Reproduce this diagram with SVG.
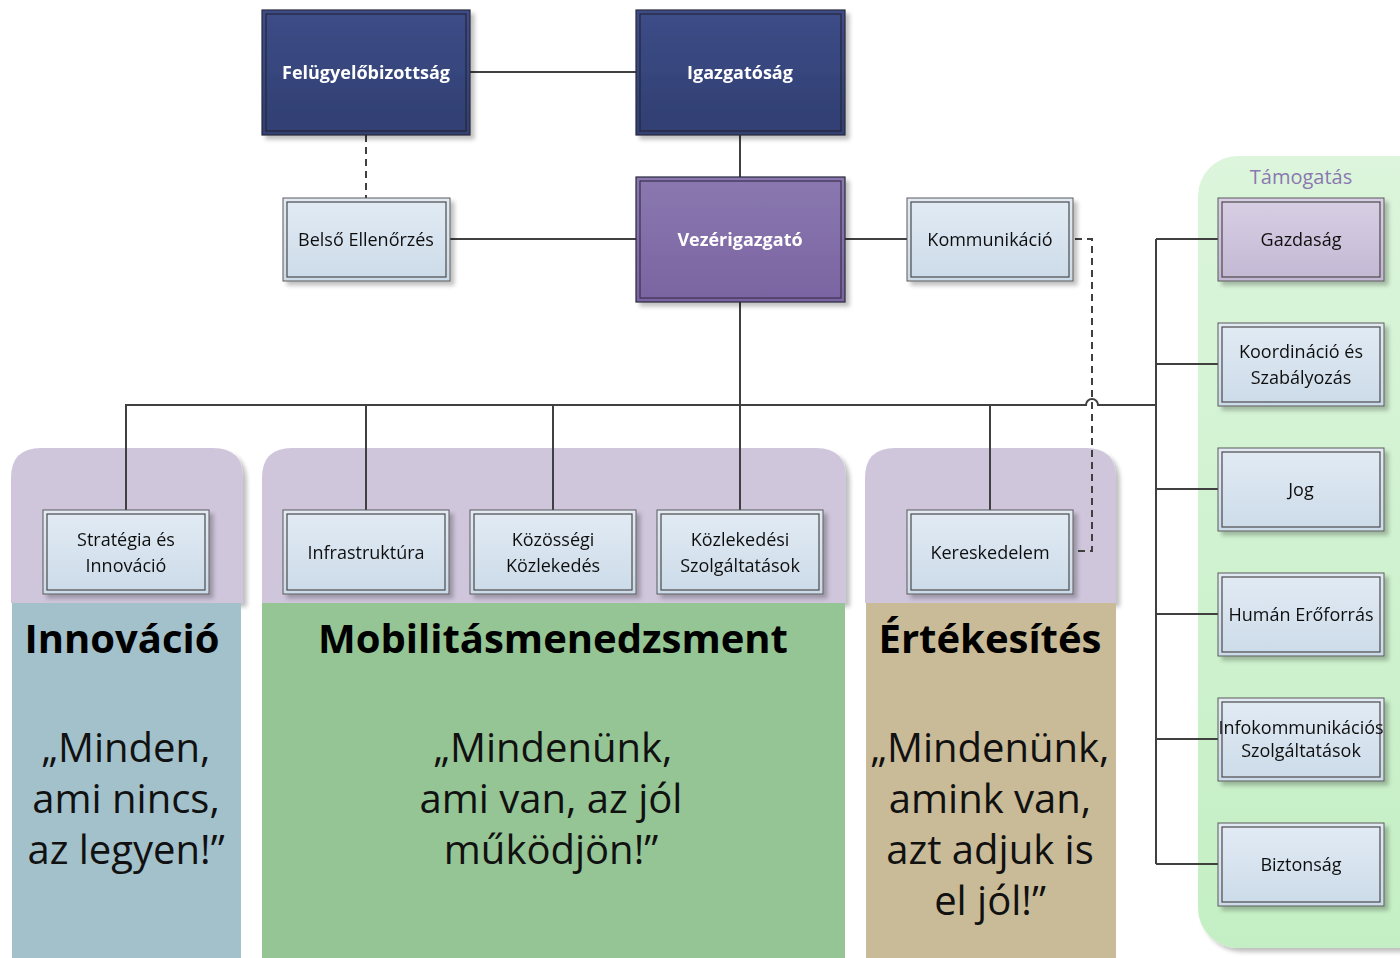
<svg xmlns="http://www.w3.org/2000/svg" width="1400" height="958" viewBox="0 0 1400 958">
<defs>
<linearGradient id="gNavy" x1="0" y1="0" x2="0" y2="1"><stop offset="0" stop-color="#3d4c88"/><stop offset="1" stop-color="#303f72"/></linearGradient>
<linearGradient id="gVez" x1="0" y1="0" x2="0" y2="1"><stop offset="0" stop-color="#8b78b0"/><stop offset="1" stop-color="#7a64a1"/></linearGradient>
<linearGradient id="gLight" x1="0" y1="0" x2="0" y2="1"><stop offset="0" stop-color="#e2ebf4"/><stop offset="1" stop-color="#ccdbe9"/></linearGradient>
<linearGradient id="gGaz" x1="0" y1="0" x2="0" y2="1"><stop offset="0" stop-color="#d8cfe4"/><stop offset="1" stop-color="#c3b8d4"/></linearGradient>
<linearGradient id="gTam" x1="0" y1="0" x2="0" y2="1"><stop offset="0" stop-color="#dcf5dc"/><stop offset="1" stop-color="#c4efc4"/></linearGradient>
<filter id="sh" x="-10%" y="-10%" width="130%" height="130%"><feGaussianBlur in="SourceAlpha" stdDeviation="2"/><feOffset dx="4" dy="4"/><feComponentTransfer><feFuncA type="linear" slope="0.25"/></feComponentTransfer><feMerge><feMergeNode/><feMergeNode in="SourceGraphic"/></feMerge></filter>
</defs>
<style>
.ln{fill:none;stroke:#404040;stroke-width:2}
.dash{fill:none;stroke:#404040;stroke-width:2;stroke-dasharray:7,5}
.bo{stroke:#5a5a5a;stroke-width:1}
.bi{fill:none;stroke:#4a4a4a;stroke-width:1.2}
.dk{stroke:#2a2a3a;stroke-width:1.2}
.wt{font-family:"Open Sans","Noto Sans",sans-serif;font-weight:bold;font-size:18px;fill:#ffffff;text-anchor:middle}
.bt{font-family:"Open Sans","Noto Sans",sans-serif;font-size:18px;fill:#111111;text-anchor:middle}
.h1{font-family:"Open Sans","Noto Sans",sans-serif;font-weight:bold;font-size:40px;fill:#000000;text-anchor:middle}
.q{font-family:"Open Sans","Noto Sans",sans-serif;font-size:40px;fill:#111111;text-anchor:middle}
</style>

<!-- Background panels -->
<g id="panel-innovacio">
<path d="M11,603 V478 Q11,448 41,448 H213 Q243,448 243,478 V603 Z" fill="#cfc6dc" filter="url(#sh)"/>
<rect x="12" y="603" width="229" height="355" fill="#a3c1cb"/>
<text class="h1" x="122" y="653">Innováció</text>
<text class="q" x="126" y="762">„Minden,</text>
<text class="q" x="126" y="813">ami nincs,</text>
<text class="q" x="126" y="864">az legyen!”</text>
</g>
<g id="panel-mobilitas">
<path d="M262,603 V478 Q262,448 292,448 H816 Q846,448 846,478 V603 Z" fill="#cfc6dc" filter="url(#sh)"/>
<rect x="262" y="603" width="583" height="355" fill="#95c595"/>
<text class="h1" x="553" y="653">Mobilitásmenedzsment</text>
<text class="q" x="553" y="762">„Mindenünk,</text>
<text class="q" x="551" y="813">ami van, az jól</text>
<text class="q" x="551" y="864">működjön!”</text>
</g>
<g id="panel-ertekesites">
<path d="M865,603 V478 Q865,448 895,448 H1086 Q1116,448 1116,478 V603 Z" fill="#cfc6dc" filter="url(#sh)"/>
<rect x="866" y="603" width="250" height="355" fill="#c9bb98"/>
<text class="h1" x="990" y="653" font-size="39">Értékesítés</text>
<text class="q" x="990" y="762">„Mindenünk,</text>
<text class="q" x="990" y="813">amink van,</text>
<text class="q" x="990" y="864">azt adjuk is</text>
<text class="q" x="990" y="915">el jól!”</text>
</g>
<g id="panel-tamogatas">
<rect x="1198" y="156" width="240" height="792" rx="40" fill="url(#gTam)" filter="url(#sh)"/>
<text x="1301" y="184" font-family="Open Sans, Noto Sans, sans-serif" font-size="20" fill="#8a78b0" text-anchor="middle">Támogatás</text>
</g>

<!-- Connectors -->
<g id="connectors">
<path class="ln" d="M470,72 H636"/>
<path class="dash" d="M366,135 V198"/>
<path class="ln" d="M740,135 V177"/>
<path class="ln" d="M450,239 H636"/>
<path class="ln" d="M845,239 H907"/>
<path class="ln" d="M740,302 V405"/>
<path class="ln" d="M126,510 V405 H1086 A6,6 0 0 1 1098,405 H1156"/>
<path class="ln" d="M366,405 V510"/>
<path class="ln" d="M553,405 V510"/>
<path class="ln" d="M740,405 V510"/>
<path class="ln" d="M990,405 V510"/>
<path class="ln" d="M1156,239 V864"/>
<path class="ln" d="M1156,239 H1218"/>
<path class="ln" d="M1156,364 H1218"/>
<path class="ln" d="M1156,489 H1218"/>
<path class="ln" d="M1156,614 H1218"/>
<path class="ln" d="M1156,739 H1218"/>
<path class="ln" d="M1156,864 H1218"/>
<path class="dash" d="M1075,239 H1092 V551 H1077"/>
</g>

<!-- Nodes -->
<g id="felugyelo" filter="url(#sh)">
<rect x="262" y="10" width="208" height="125" fill="url(#gNavy)" class="dk"/>
<rect x="266" y="14" width="200" height="117" fill="none" stroke="#26263a" stroke-width="1.2"/>
<text class="wt" x="366" y="79">Felügyelőbizottság</text>
</g>
<g id="igazgatosag" filter="url(#sh)">
<rect x="636" y="10" width="209" height="125" fill="url(#gNavy)" class="dk"/>
<rect x="640" y="14" width="201" height="117" fill="none" stroke="#26263a" stroke-width="1.2"/>
<text class="wt" x="740" y="79">Igazgatóság</text>
</g>
<g id="vezerigazgato" filter="url(#sh)">
<rect x="636" y="177" width="209" height="125" fill="url(#gVez)" class="dk"/>
<rect x="640" y="181" width="201" height="117" fill="none" stroke="#3a2f4e" stroke-width="1.2"/>
<text class="wt" x="740" y="246">Vezérigazgató</text>
</g>
<g id="belso" filter="url(#sh)">
<rect x="283" y="198" width="167" height="83" fill="url(#gLight)" class="bo"/>
<rect x="287" y="202" width="159" height="75" class="bi"/>
<text class="bt" x="366" y="246">Belső Ellenőrzés</text>
</g>
<g id="kommunikacio" filter="url(#sh)">
<rect x="907" y="198" width="166" height="83" fill="url(#gLight)" class="bo"/>
<rect x="911" y="202" width="158" height="75" class="bi"/>
<text class="bt" x="990" y="246">Kommunikáció</text>
</g>
<g id="strategia" filter="url(#sh)">
<rect x="43" y="510" width="166" height="84" fill="url(#gLight)" class="bo"/>
<rect x="47" y="514" width="158" height="76" class="bi"/>
<text class="bt" x="126" y="546">Stratégia és</text>
<text class="bt" x="126" y="572">Innováció</text>
</g>
<g id="infrastruktura" filter="url(#sh)">
<rect x="283" y="510" width="166" height="84" fill="url(#gLight)" class="bo"/>
<rect x="287" y="514" width="158" height="76" class="bi"/>
<text class="bt" x="366" y="559">Infrastruktúra</text>
</g>
<g id="kozossegi" filter="url(#sh)">
<rect x="470" y="510" width="166" height="84" fill="url(#gLight)" class="bo"/>
<rect x="474" y="514" width="158" height="76" class="bi"/>
<text class="bt" x="553" y="546">Közösségi</text>
<text class="bt" x="553" y="572">Közlekedés</text>
</g>
<g id="kozlekedesi" filter="url(#sh)">
<rect x="657" y="510" width="166" height="84" fill="url(#gLight)" class="bo"/>
<rect x="661" y="514" width="158" height="76" class="bi"/>
<text class="bt" x="740" y="546">Közlekedési</text>
<text class="bt" x="740" y="572">Szolgáltatások</text>
</g>
<g id="kereskedelem" filter="url(#sh)">
<rect x="907" y="510" width="166" height="84" fill="url(#gLight)" class="bo"/>
<rect x="911" y="514" width="158" height="76" class="bi"/>
<text class="bt" x="990" y="559">Kereskedelem</text>
</g>
<g id="gazdasag" filter="url(#sh)">
<rect x="1218" y="198" width="166" height="83" fill="url(#gGaz)" class="bo"/>
<rect x="1222" y="202" width="158" height="75" class="bi"/>
<text class="bt" x="1301" y="246">Gazdaság</text>
</g>
<g id="koordinacio" filter="url(#sh)">
<rect x="1218" y="323" width="166" height="83" fill="url(#gLight)" class="bo"/>
<rect x="1222" y="327" width="158" height="75" class="bi"/>
<text class="bt" x="1301" y="358">Koordináció és</text>
<text class="bt" x="1301" y="384">Szabályozás</text>
</g>
<g id="jog" filter="url(#sh)">
<rect x="1218" y="448" width="166" height="83" fill="url(#gLight)" class="bo"/>
<rect x="1222" y="452" width="158" height="75" class="bi"/>
<text class="bt" x="1301" y="496">Jog</text>
</g>
<g id="human" filter="url(#sh)">
<rect x="1218" y="573" width="166" height="83" fill="url(#gLight)" class="bo"/>
<rect x="1222" y="577" width="158" height="75" class="bi"/>
<text class="bt" x="1301" y="621">Humán Erőforrás</text>
</g>
<g id="infokommunikacio" filter="url(#sh)">
<rect x="1218" y="698" width="166" height="83" fill="url(#gLight)" class="bo"/>
<rect x="1222" y="702" width="158" height="75" class="bi"/>
<text class="bt" x="1301" y="734" font-size="15.5">Infokommunikációs</text>
<text class="bt" x="1301" y="757" font-size="15.5">Szolgáltatások</text>
</g>
<g id="biztonsag" filter="url(#sh)">
<rect x="1218" y="823" width="166" height="83" fill="url(#gLight)" class="bo"/>
<rect x="1222" y="827" width="158" height="75" class="bi"/>
<text class="bt" x="1301" y="871">Biztonság</text>
</g>
</svg>
